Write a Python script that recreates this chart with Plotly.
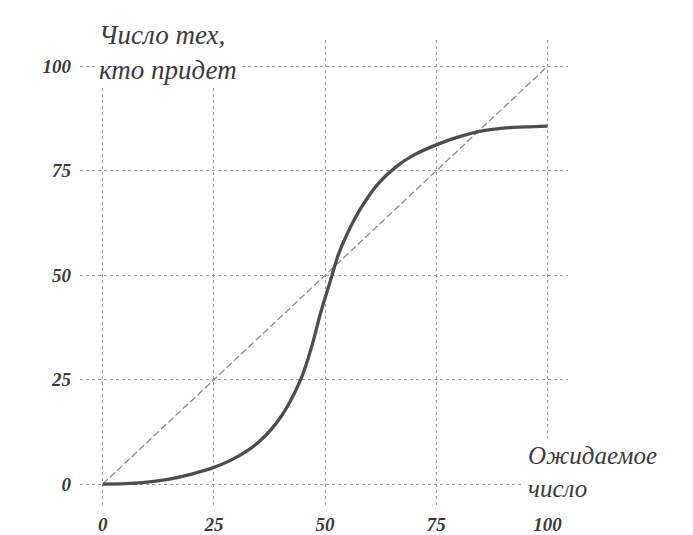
import plotly.graph_objects as go

# Data
expected = [0, 5, 10, 15, 20, 25, 30, 35, 40, 44.5, 47, 49, 51, 53, 55, 58, 62, 66, 70, 75, 80, 85, 90, 95, 100]
attend = [0, 0.1, 0.5, 1.2, 2.4, 4.0, 6.4, 10, 16, 25, 33, 41, 48, 55, 60, 66, 72, 76, 78.8, 81.2, 83.1, 84.5, 85.2, 85.5, 85.7]
diag_x = [0, 100]
diag_y = [0, 100]
tick_vals = [0, 25, 50, 75, 100]
tick_text = ["0", "25", "50", "75", "100"]

title_y = "Число тех,<br>кто придет"
title_x = "Ожидаемое<br>число"

font_fam = "Liberation Serif, DejaVu Serif, serif"

fig = go.Figure()
fig.add_trace(go.Scatter(x=diag_x, y=diag_y, mode="lines",
                         line=dict(color="#8a8a8a", width=1.3, dash="7px,3px"),
                         hoverinfo="skip", showlegend=False))
fig.add_trace(go.Scatter(x=expected, y=attend, mode="lines",
                         line=dict(color="#4d4d4d", width=3.3, shape="spline", smoothing=1.0),
                         showlegend=False))

axis_common = dict(
    tickvals=tick_vals, ticktext=tick_text,
    showgrid=True, gridcolor="#9a9a9a", gridwidth=1, griddash="dot",
    zeroline=False, showline=False, ticks="", automargin=False,
    tickfont=dict(family=font_fam, size=19, color="#3a3a3a", style="italic", weight=600),
)
fig.update_xaxes(range=[-5.1, 104.6], ticklabelstandoff=6, **axis_common)
fig.update_yaxes(range=[-5, 106.3], ticklabelstandoff=8, **axis_common)

fig.add_annotation(x=-1.5, y=103.2, xref="x", yref="y", text=title_y, showarrow=False,
                   xanchor="left", yanchor="middle", align="left",
                   font=dict(family=font_fam, size=27, color="#3a3a3a", style="italic"),
                   bgcolor="white", borderpad=2)
fig.add_annotation(x=94.5, y=3.0, xref="x", yref="y", text=title_x, showarrow=False,
                   xanchor="left", yanchor="middle", align="left",
                   font=dict(family=font_fam, size=25, color="#3a3a3a", style="italic"),
                   bgcolor="white", borderpad=4)

# page body adds an 8px offset, so the figure is sized to fit the window
fig.update_layout(
    width=685, height=527,
    margin=dict(l=72, r=125, t=32, b=30),
    paper_bgcolor="white", plot_bgcolor="white",
)

fig.write_html("out.html")
